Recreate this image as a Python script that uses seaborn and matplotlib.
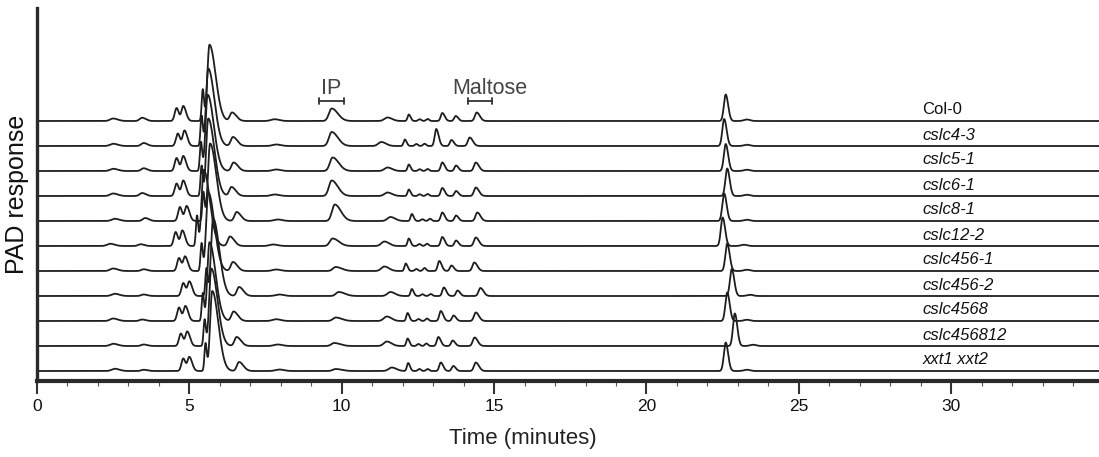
import numpy as np
import pandas as pd
import matplotlib
matplotlib.use("Agg")
import matplotlib.pyplot as plt
import seaborn as sns

# ---------------- data ----------------
traces = ["Col-0", "cslc4-3", "cslc5-1", "cslc6-1", "cslc8-1", "cslc12-2",
          "cslc456-1", "cslc456-2", "cslc4568", "cslc456812", "xxt1 xxt2"]
italic = [False] + [True] * 10
offsets = [10, 9, 8, 7, 6, 5, 4, 3, 2, 1, 0]   # stacking offset (trace spacing units)

# peak retention times (minutes) per trace, and heights (trace-spacing units)
p25_t = [2.5, 2.5, 2.5, 2.5, 2.55, 2.4, 2.5, 2.55, 2.5, 2.5, 2.55]
p25_h = [0.10, 0.09, 0.09, 0.10, 0.09, 0.09, 0.10, 0.09, 0.10, 0.09, 0.09]
p35_t = [3.45, 3.5, 3.5, 3.45, 3.55, 3.4, 3.5, 3.5, 3.45, 3.5, 3.5]
p35_h = [0.13, 0.12, 0.11, 0.12, 0.12, 0.07, 0.07, 0.06, 0.06, 0.06, 0.05]
d1_t = [4.58, 4.62, 4.58, 4.58, 4.69, 4.55, 4.66, 4.80, 4.66, 4.72, 4.80]
d1_h = [0.52, 0.50, 0.52, 0.50, 0.56, 0.56, 0.52, 0.52, 0.54, 0.50, 0.50]
d2_t = [4.80, 4.84, 4.80, 4.80, 4.91, 4.77, 4.86, 5.00, 4.87, 4.93, 5.00]
d2_h = [0.60, 0.62, 0.60, 0.62, 0.60, 0.62, 0.58, 0.58, 0.60, 0.58, 0.56]
sh_t = [5.44, 5.40, 5.38, 5.40, 5.46, 5.25, 5.40, 5.56, 5.44, 5.50, 5.53]
sh_h = [1.25, 1.20, 1.15, 1.20, 1.15, 1.20, 1.10, 1.10, 1.10, 1.05, 1.10]
main_t = [5.66, 5.62, 5.60, 5.62, 5.68, 5.47, 5.62, 5.78, 5.66, 5.72, 5.75]
main_h = [3.05, 3.10, 3.05, 3.10, 3.10, 3.05, 3.15, 3.10, 3.15, 3.10, 3.20]
p64_t = [6.40, 6.43, 6.45, 6.38, 6.55, 6.33, 6.43, 6.63, 6.45, 6.55, 6.63]
p64_h = [0.34, 0.36, 0.34, 0.36, 0.36, 0.38, 0.36, 0.36, 0.38, 0.36, 0.36]
p78_t = [7.8, 7.85, 7.85, 7.8, 7.9, 7.75, 7.85, 7.95, 7.85, 7.9, 7.95]
p78_h = [0.07, 0.06, 0.06, 0.06, 0.06, 0.06, 0.06, 0.06, 0.07, 0.06, 0.06]
ip_t = [9.67, 9.67, 9.70, 9.67, 9.77, 9.70, 9.80, 9.90, 9.80, 9.75, 9.80]
ip_h = [0.50, 0.56, 0.54, 0.62, 0.66, 0.30, 0.16, 0.16, 0.14, 0.12, 0.08]
p115_t = [11.50, 11.30, 11.50, 11.50, 11.60, 11.40, 11.40, 11.60, 11.48, 11.48, 11.64]
p115_h = [0.14, 0.16, 0.14, 0.14, 0.16, 0.18, 0.18, 0.16, 0.18, 0.18, 0.14]
p122_t = [12.20, 12.07, 12.20, 12.20, 12.30, 12.20, 12.10, 12.30, 12.16, 12.16, 12.18]
p122_h = [0.26, 0.26, 0.26, 0.26, 0.28, 0.30, 0.30, 0.28, 0.32, 0.30, 0.32]
p126_t = [12.56, 12.45, 12.56, 12.56, 12.65, 12.55, 12.45, 12.65, 12.52, 12.52, 12.55]
p126_h = [0.07, 0.08, 0.07, 0.07, 0.07, 0.08, 0.08, 0.07, 0.08, 0.08, 0.08]
p128_t = [12.82, 12.72, 12.82, 12.82, 12.90, 12.80, 12.72, 12.92, 12.80, 12.78, 12.82]
p128_h = [0.08, 0.09, 0.08, 0.08, 0.09, 0.09, 0.12, 0.08, 0.10, 0.10, 0.08]
p133_t = [13.30, 13.10, 13.30, 13.30, 13.30, 13.30, 13.20, 13.35, 13.25, 13.17, 13.25]
p133_h = [0.32, 0.68, 0.34, 0.32, 0.34, 0.36, 0.40, 0.34, 0.40, 0.36, 0.34]
p137_t = [13.74, 13.60, 13.75, 13.75, 13.75, 13.75, 13.60, 13.80, 13.67, 13.64, 13.66]
p137_h = [0.20, 0.24, 0.22, 0.20, 0.22, 0.22, 0.22, 0.22, 0.22, 0.22, 0.20]
p144_t = [14.43, 14.20, 14.40, 14.40, 14.45, 14.40, 14.35, 14.55, 14.40, 14.36, 14.40]
p144_h = [0.34, 0.34, 0.34, 0.34, 0.34, 0.34, 0.34, 0.32, 0.34, 0.34, 0.34]
p226_t = [22.60, 22.55, 22.60, 22.65, 22.55, 22.50, 22.65, 22.80, 22.65, 22.90, 22.60]
p226_h = [1.06, 1.08, 1.08, 1.10, 1.10, 1.14, 1.10, 1.08, 1.14, 1.30, 1.14]
p233_t = [23.3, 23.3, 23.3, 23.3, 23.3, 23.2, 23.3, 23.4, 23.3, 23.5, 23.3]
p233_h = [0.06, 0.05, 0.05, 0.05, 0.05, 0.05, 0.05, 0.05, 0.05, 0.05, 0.05]

ip_range = [9.25, 10.07]
maltose_range = [14.13, 14.92]
x_ticks = [0, 5, 10, 15, 20, 25, 30]

# peak shape (left sigma, right sigma) for each peak group — style
groups = [
    (p25_t, p25_h, 0.10, 0.15), (p35_t, p35_h, 0.08, 0.12),
    (d1_t, d1_h, 0.06, 0.07), (d2_t, d2_h, 0.06, 0.09),
    (sh_t, sh_h, 0.035, 0.04), (main_t, main_h, 0.07, 0.20),
    (p64_t, p64_h, 0.07, 0.14), (p78_t, p78_h, 0.12, 0.15),
    (ip_t, ip_h, 0.09, 0.20), (p115_t, p115_h, 0.10, 0.15),
    (p122_t, p122_h, 0.04, 0.06), (p126_t, p126_h, 0.05, 0.05),
    (p128_t, p128_h, 0.05, 0.05), (p133_t, p133_h, 0.05, 0.08),
    (p137_t, p137_h, 0.05, 0.08), (p144_t, p144_h, 0.06, 0.10),
    (p226_t, p226_h, 0.06, 0.08), (p233_t, p233_h, 0.10, 0.10),
]

x_max = 34.85
t = np.linspace(0, x_max, 8000)


def peak(tt, t0, h, sl, sr):
    s = np.where(tt < t0, sl, sr)
    return h * np.exp(-0.5 * ((tt - t0) / s) ** 2)


rows = []
for i, name in enumerate(traces):
    y = np.full_like(t, float(offsets[i]))
    for (tl, hl, sl, sr) in groups:
        y = y + peak(t, tl[i], hl[i], sl, sr)
    rows.append(pd.DataFrame({"time": t, "signal": y, "trace": name}))
df = pd.concat(rows, ignore_index=True)

# ---------------- plot ----------------
sns.set_theme(style="white")
plt.rcParams["font.family"] = ["Liberation Sans", "DejaVu Sans"]

fig = plt.figure(figsize=(10.99, 4.57), dpi=100)
ax = fig.add_axes([37 / 1099, 76 / 457, 1 - 37 / 1099, (381 - 8) / 457])

sns.lineplot(data=df, x="time", y="signal", units="trace", estimator=None,
             color="#1e1e1e", linewidth=1.3, ax=ax, legend=False, sort=False)

ax.set_xlim(0, x_max)
ax.set_ylim(-0.4, (381 - 8) / 25 - 0.4)

# labels on the right
for i, name in enumerate(traces):
    ax.text(29.05, offsets[i] + 0.26, name, fontsize=12,
            style="italic" if italic[i] else "normal",
            ha="left", va="baseline", color="#111111")

# IP and Maltose brackets
for rng, lab in [(ip_range, "IP"), (maltose_range, "Maltose")]:
    yb = 10.82
    ax.plot(rng, [yb, yb], color="#333333", lw=1.3)
    for xe in rng:
        ax.plot([xe, xe], [yb - 0.12, yb + 0.12], color="#333333", lw=1.3)
    xc = (rng[0] + rng[1]) / 2 + (0.0 if lab == "IP" else 0.32)
    ax.text(xc, yb + 0.25, lab, ha="center", va="baseline", fontsize=15.5,
            color="#444444")

# axes styling
ax.set_xticks(x_ticks)
ax.set_xticks(np.arange(0, 35, 1), minor=True)
ax.set_yticks([])
ax.tick_params(axis="x", which="major", direction="out", length=9, width=1.5,
               colors="#333333", labelsize=12.5, pad=4, bottom=True)
ax.tick_params(axis="x", which="minor", direction="out", length=3.5, width=0.8,
               colors="#555555", bottom=True)
for lbl in ax.get_xticklabels():
    lbl.set_color("#111111")
ax.set_xlabel("Time (minutes)", fontsize=16, color="#222222")
ax.xaxis.set_label_coords((523 - 37) / 1062, -0.125)
ax.set_ylabel("PAD response", fontsize=18, color="#111111")
ax.yaxis.set_label_coords(-0.008, 0.5)

for s in ["top", "right"]:
    ax.spines[s].set_visible(False)
ax.spines["bottom"].set_linewidth(3.0)
ax.spines["bottom"].set_color("#2a2a2a")
ax.spines["left"].set_linewidth(2.4)
ax.spines["left"].set_color("#2a2a2a")

fig.savefig("out.png", dpi=100)
